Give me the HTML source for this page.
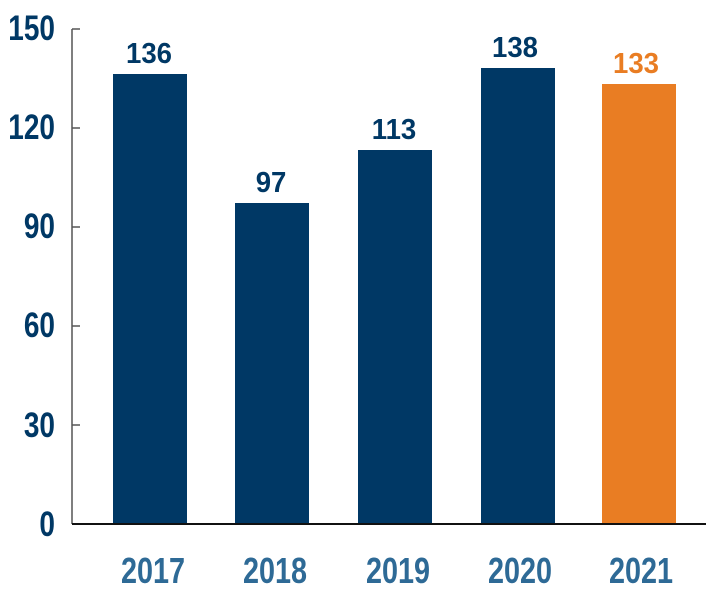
<!DOCTYPE html>
<html><head><style>
body{margin:0;background:#fff;}
svg text{font-family:"Liberation Sans",Arial,sans-serif;font-weight:bold;}
</style></head><body>
<svg width="724" height="600" xmlns="http://www.w3.org/2000/svg">
<g fill="#003865" font-size="35" text-anchor="end">
<text transform="translate(55,40) scale(0.8,1)">150</text>
<text transform="translate(55,139) scale(0.8,1)">120</text>
<text transform="translate(55,238) scale(0.8,1)">90</text>
<text transform="translate(55,337) scale(0.8,1)">60</text>
<text transform="translate(55,437) scale(0.8,1)">30</text>
<text transform="translate(55,536) scale(0.8,1)">0</text>
</g>
<line x1="72" y1="29" x2="72" y2="524" stroke="#555" stroke-width="1.5"/>
<g stroke="#555" stroke-width="1.5">
<line x1="72" y1="29" x2="80" y2="29"/><line x1="72" y1="128" x2="80" y2="128"/>
<line x1="72" y1="227" x2="80" y2="227"/><line x1="72" y1="326" x2="80" y2="326"/>
<line x1="72" y1="425" x2="80" y2="425"/>
</g>
<rect x="113" y="74" width="74" height="450" fill="#003865"/>
<rect x="235" y="203" width="74" height="321" fill="#003865"/>
<rect x="358" y="150" width="74" height="374" fill="#003865"/>
<rect x="481" y="68" width="74" height="456" fill="#003865"/>
<rect x="602" y="84" width="74" height="440" fill="#e97d23"/>
<line x1="72" y1="524" x2="706" y2="524" stroke="#111" stroke-width="2"/>
<g font-size="29" text-anchor="middle" fill="#003865">
<text transform="translate(149,63) scale(0.95,1)">136</text>
<text transform="translate(271,192) scale(0.95,1)">97</text>
<text transform="translate(394,139) scale(0.95,1)">113</text>
<text transform="translate(515,57) scale(0.95,1)">138</text>
<text transform="translate(636,73) scale(0.95,1)" fill="#e97d23">133</text>
</g>
<g font-size="36" text-anchor="middle" fill="#2e6a96">
<text transform="translate(153,583) scale(0.8,1)">2017</text>
<text transform="translate(275,583) scale(0.8,1)">2018</text>
<text transform="translate(398,583) scale(0.8,1)">2019</text>
<text transform="translate(520,583) scale(0.8,1)">2020</text>
<text transform="translate(641,583) scale(0.8,1)">2021</text>
</g>
</svg>
</body></html>
